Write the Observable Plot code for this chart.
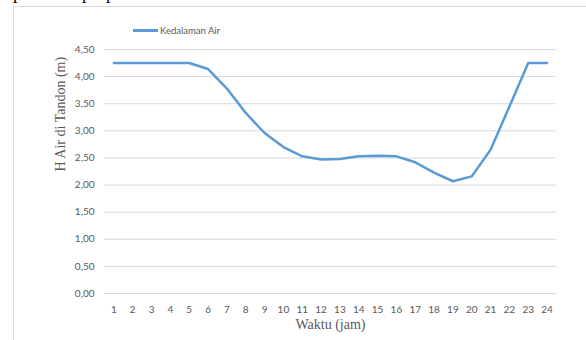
<!DOCTYPE html>
<html>
<head>
<meta charset="utf-8">
<script src="https://cdn.jsdelivr.net/npm/d3@7"></script>
<script src="https://cdn.jsdelivr.net/npm/@observablehq/plot@0.6"></script>
<style>
  html, body { margin: 0; padding: 0; background: #fff; }
  #wrap { position: relative; width: 586px; height: 340px; overflow: hidden; }
  #frame { position: absolute; left: 13px; top: 6px; right: -2px; bottom: -2px;
           border-left: 1px solid #d9d9d9; border-top: 1px solid #d9d9d9; }
  .above { position: absolute; top: -17px; font: 18px "Liberation Serif", serif; color: #000; }
  #legend { position: absolute; left: 133px; top: 25px; font: 9.5px Lato, "Open Sans", sans-serif;
            color: #595959; display: flex; align-items: center; }
  #legend .swatch { width: 25px; height: 2.5px; background: #5b9bd5; margin-right: 2px; }
  #chart { position: absolute; left: 0; top: 0; }
</style>
</head>
<body>
<div id="wrap">
  <span class="above" style="left:13px">p</span>
  <span class="above" style="left:82px">p</span>
  <span class="above" style="left:106px">p</span>
  <div id="frame"></div>
  <div id="chart"></div>
  <div id="legend"><span class="swatch"></span><span>Kedalaman Air</span></div>
</div>
<script>
// Water level in the tank (m) per hour
const hours = [1, 2, 3, 4, 5, 6, 7, 8, 9, 10, 11, 12, 13, 14, 15, 16, 17, 18, 19, 20, 21, 22, 23, 24];
const depth = [4.25, 4.25, 4.25, 4.25, 4.25, 4.14, 3.78, 3.33, 2.96, 2.70, 2.53, 2.47, 2.48, 2.53, 2.54, 2.53, 2.42, 2.23, 2.07, 2.16, 2.65, 3.45, 4.25, 4.25];
const yTicks = [0, 0.5, 1, 1.5, 2, 2.5, 3, 3.5, 4, 4.5];
const seriesName = "Kedalaman Air";
const xTitle = "Waktu (jam)";
const yTitle = "H Air di Tandon (m)";

const data = hours.map((h, i) => ({hour: h, depth: depth[i], series: seriesName}));
const comma = d => d.toFixed(2).replace(".", ",");

const chart = Plot.plot({
  width: 586,
  height: 340,
  marginLeft: 104,
  marginRight: 30,
  marginTop: 49,
  marginBottom: 47,
  style: {fontFamily: "Lato, 'Open Sans', sans-serif", fontSize: "10px", color: "#595959", background: "transparent"},
  // each hour sits in the middle of its own slot
  x: {domain: [0.5, 24.5]},
  y: {domain: [0, 4.5]},
  marks: [
    Plot.gridY(yTicks, {stroke: "#d9d9d9", strokeOpacity: 1, strokeWidth: 1}),
    Plot.axisY(yTicks, {tickSize: 0, tickPadding: 10, tickFormat: comma, label: null, fill: "#595959"}),
    Plot.axisX(hours, {tickSize: 0, tickPadding: 12, tickFormat: d => String(d), label: null, fill: "#595959"}),
    Plot.line(data, {x: "hour", y: "depth", stroke: "#5b9bd5", strokeWidth: 2.5, strokeLinejoin: "round", strokeLinecap: "round"}),
    Plot.text([xTitle], {frameAnchor: "bottom", dy: 35, fontFamily: "'Liberation Serif', serif", fontSize: 14, fill: "#595959"}),
    Plot.text([yTitle], {frameAnchor: "left", dx: -44, rotate: -90, fontFamily: "'Liberation Serif', serif", fontSize: 14, fill: "#595959"})
  ]
});
document.getElementById("chart").appendChild(chart);
</script>
</body>
</html>
